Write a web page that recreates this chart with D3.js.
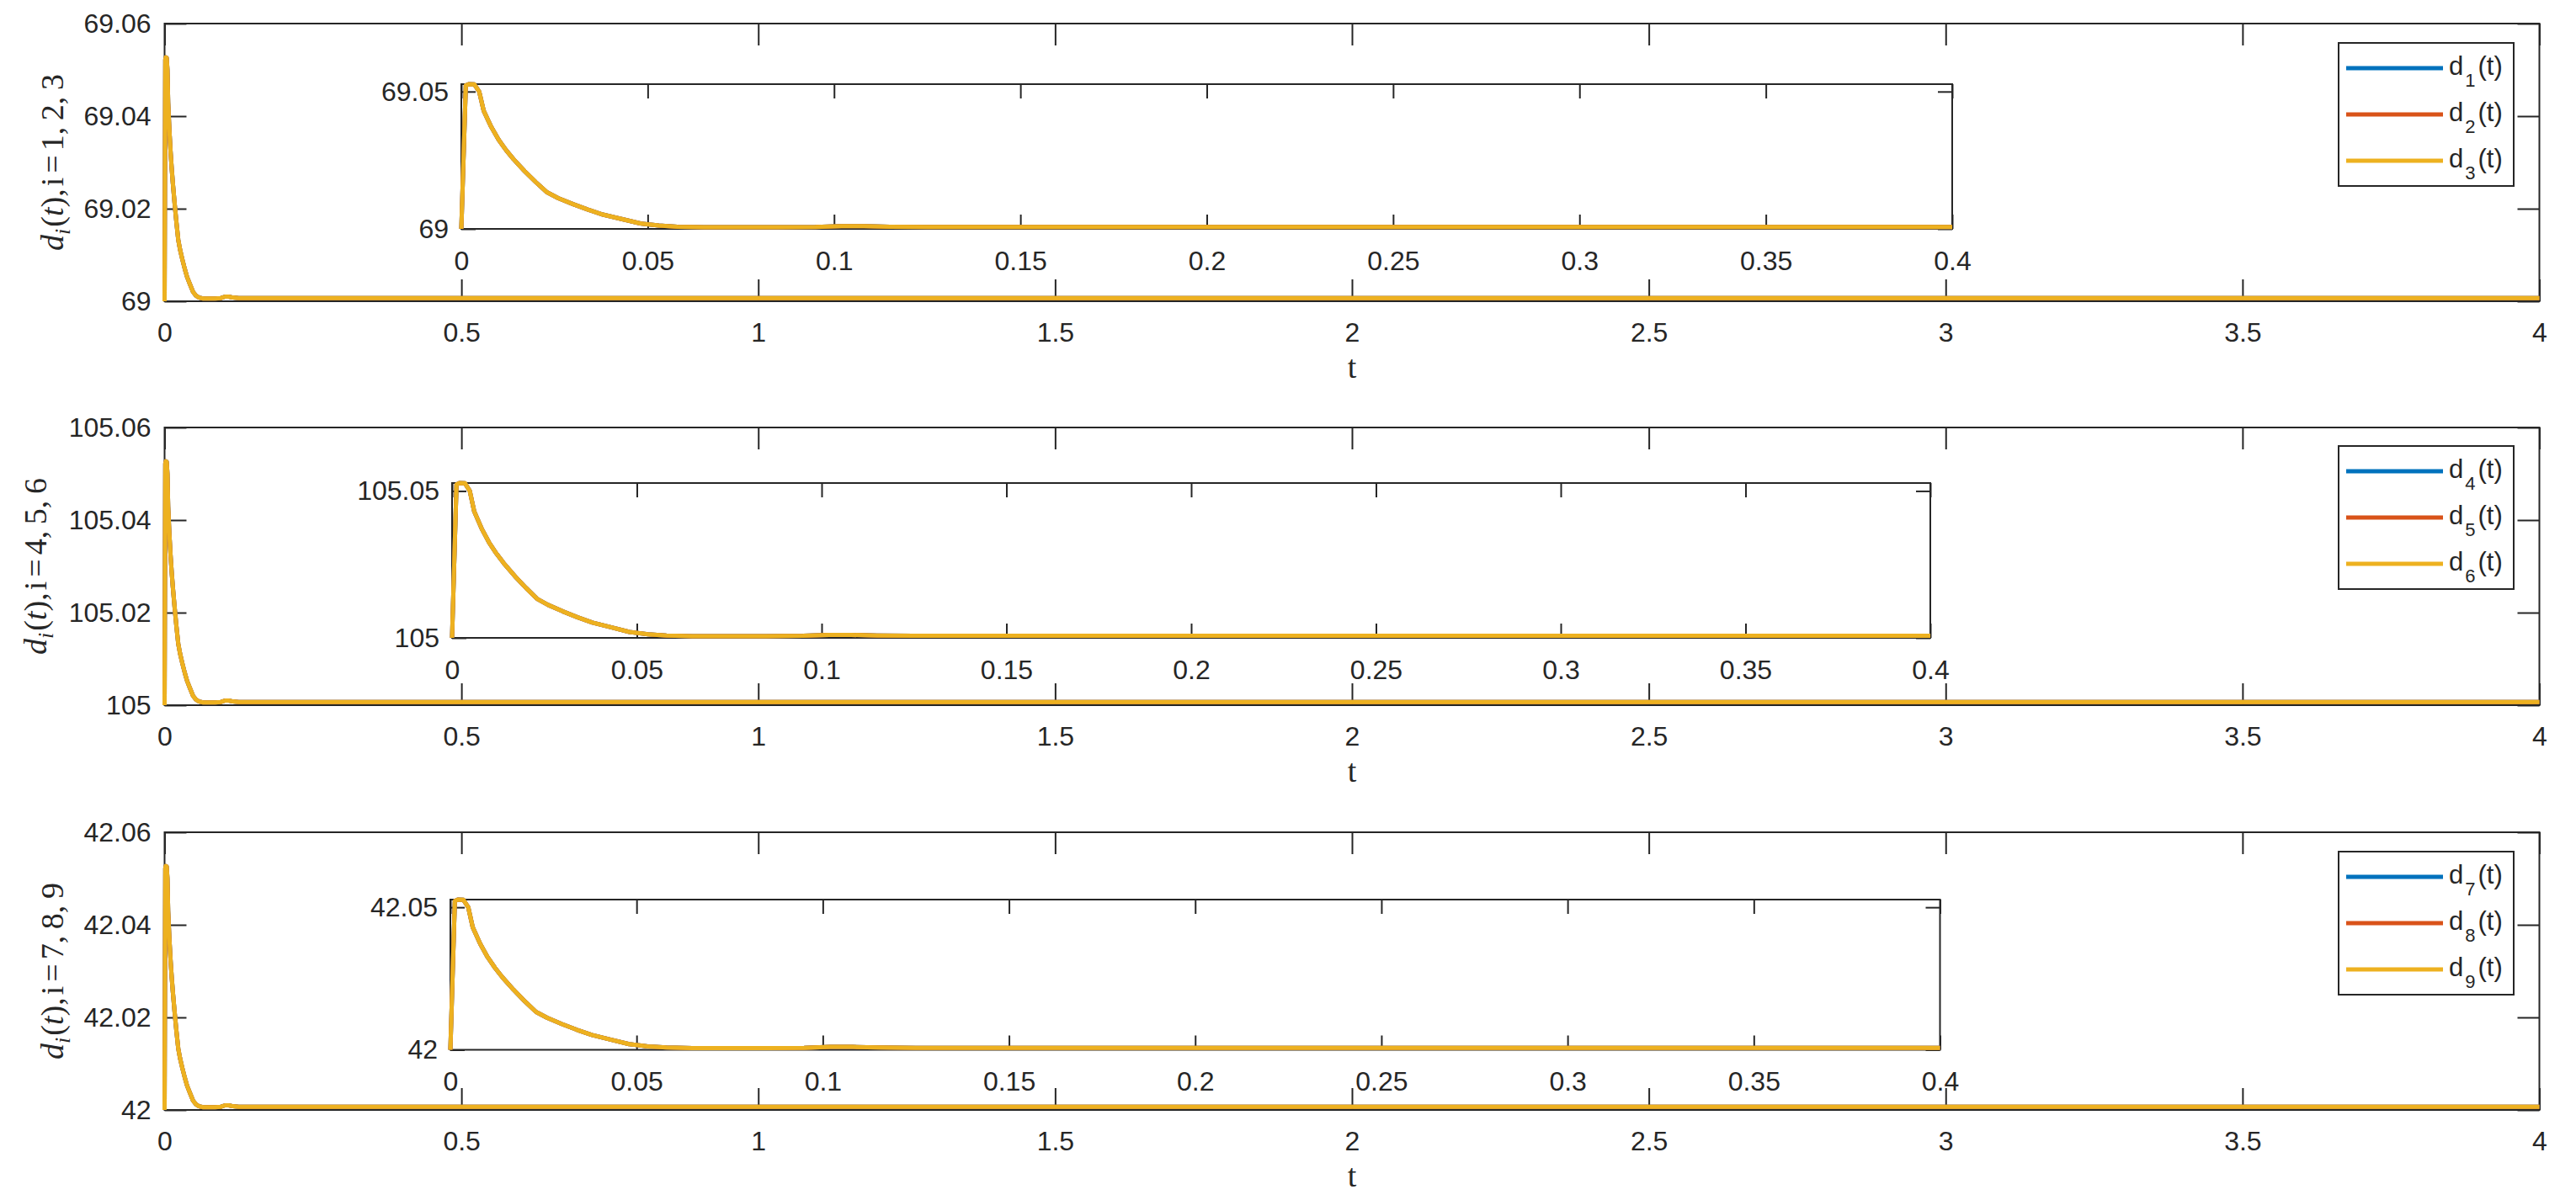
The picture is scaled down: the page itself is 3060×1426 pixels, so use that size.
<!DOCTYPE html>
<html><head><meta charset="utf-8">
<script src="https://cdn.jsdelivr.net/npm/d3@7"></script>
<style>body{margin:0;background:#fff;} svg{display:block;}</style>
</head><body><svg id="chart" width="3060" height="1426"></svg>
<script>
// ---------------- data ----------------
const timeValues = [0, 0.0012, 0.002, 0.0035, 0.0048, 0.006, 0.008, 0.010, 0.012, 0.014, 0.017, 0.020, 0.023, 0.026, 0.030, 0.034, 0.038, 0.043, 0.048, 0.053, 0.058, 0.065, 0.075, 0.085, 0.095, 0.102, 0.108, 0.115, 0.125, 0.15, 0.2, 0.3, 0.4, 0.8, 1.5, 2.5, 4];

// d1(t), d2(t), d3(t) coincide
const d123Values = [69, 69.0522, 69.0527, 69.0526, 69.0500, 69.0430, 69.0372, 69.0325, 69.0287, 69.0254, 69.0210, 69.0170, 69.0133, 69.0112, 69.0090, 69.0070, 69.0052, 69.0036, 69.0020, 69.0012, 69.0008, 69.0006, 69.0006, 69.0006, 69.0007, 69.0010, 69.0010, 69.0008, 69.0007, 69.0007, 69.0007, 69.0007, 69.0007, 69.0007, 69.0007, 69.0007, 69.0007];
// d4(t), d5(t), d6(t) coincide
const d456Values = [105, 105.0522, 105.0527, 105.0526, 105.0500, 105.0430, 105.0372, 105.0325, 105.0287, 105.0254, 105.0210, 105.0170, 105.0133, 105.0112, 105.0090, 105.0070, 105.0052, 105.0036, 105.0020, 105.0012, 105.0008, 105.0006, 105.0006, 105.0006, 105.0007, 105.0010, 105.0010, 105.0008, 105.0007, 105.0007, 105.0007, 105.0007, 105.0007, 105.0007, 105.0007, 105.0007, 105.0007];
// d7(t), d8(t), d9(t) coincide
const d789Values = [42, 42.0522, 42.0527, 42.0526, 42.0500, 42.0430, 42.0372, 42.0325, 42.0287, 42.0254, 42.0210, 42.0170, 42.0133, 42.0112, 42.0090, 42.0070, 42.0052, 42.0036, 42.0020, 42.0012, 42.0008, 42.0006, 42.0006, 42.0006, 42.0007, 42.0010, 42.0010, 42.0008, 42.0007, 42.0007, 42.0007, 42.0007, 42.0007, 42.0007, 42.0007, 42.0007, 42.0007];

const mainXTicks = [0, 0.5, 1, 1.5, 2, 2.5, 3, 3.5, 4];
const insetXTicks = [0, 0.05, 0.1, 0.15, 0.2, 0.25, 0.3, 0.35, 0.4];
const yTicks123 = [69, 69.02, 69.04, 69.06];
const yTicks456 = [105, 105.02, 105.04, 105.06];
const yTicks789 = [42, 42.02, 42.04, 42.06];
const insetYTicks123 = [69, 69.05];
const insetYTicks456 = [105, 105.05];
const insetYTicks789 = [42, 42.05];
const legend123 = ["1", "2", "3"];
const legend456 = ["4", "5", "6"];
const legend789 = ["7", "8", "9"];
const ylabelIdx123 = "1,2,3";
const ylabelIdx456 = "4,5,6";
const ylabelIdx789 = "7,8,9";
const seriesColors = ["#0072BD", "#D95319", "#EDB120"];

const groups = [
  {values: [d123Values, d123Values, d123Values], yTicks: yTicks123, insetYTicks: insetYTicks123, legend: legend123, ylab: ylabelIdx123},
  {values: [d456Values, d456Values, d456Values], yTicks: yTicks456, insetYTicks: insetYTicks456, legend: legend456, ylab: ylabelIdx456},
  {values: [d789Values, d789Values, d789Values], yTicks: yTicks789, insetYTicks: insetYTicks789, legend: legend789, ylab: ylabelIdx789}
];

// ---------------- layout ----------------
const AX = "#262626";
const SANS = "'Liberation Sans', Arial, sans-serif";
const SERIF = "'Liberation Serif', 'Times New Roman', serif";
const left = 195.5, right = 3016.5;
const layout = [
  {top: 28, bottom: 358, inset: {l: 548, r: 2319, t: 100, b: 272}, legendTop: 51, ylabelX: 75},
  {top: 508, bottom: 838, inset: {l: 537, r: 2293, t: 574, b: 758}, legendTop: 530, ylabelX: 55},
  {top: 989, bottom: 1319, inset: {l: 535, r: 2304.5, t: 1069, b: 1247.5}, legendTop: 1012, ylabelX: 75}
];

const svg = d3.select("#chart");
svg.append("rect").attr("width", 3060).attr("height", 1426).attr("fill", "#fff");

const fmt = d => String(+d.toFixed(4));

function drawAxes(g, x, y, xt, yt, tickLen, xPad, yPad, fontSize) {
  const [x0, x1] = x.range();
  const [y0, y1] = y.range(); // y0 bottom, y1 top
  const parts = [];
  parts.push(g.append("g").attr("transform", `translate(0,${y0})`)
    .call(d3.axisBottom(x).tickValues(xt).tickSizeInner(-tickLen).tickSizeOuter(0).tickPadding(xPad).tickFormat(fmt)));
  parts.push(g.append("g").attr("transform", `translate(0,${y1})`)
    .call(d3.axisTop(x).tickValues(xt).tickSizeInner(-tickLen).tickSizeOuter(0).tickFormat(() => "")));
  parts.push(g.append("g").attr("transform", `translate(${x0},0)`)
    .call(d3.axisLeft(y).tickValues(yt).tickSizeInner(-tickLen).tickSizeOuter(0).tickPadding(yPad).tickFormat(fmt)));
  parts.push(g.append("g").attr("transform", `translate(${x1},0)`)
    .call(d3.axisRight(y).tickValues(yt).tickSizeInner(-tickLen).tickSizeOuter(0).tickFormat(() => "")));
  parts.forEach(p => {
    p.select(".domain").remove();
    p.selectAll(".tick line").attr("stroke", AX).attr("stroke-width", 2);
    p.selectAll(".tick text").attr("fill", AX).attr("font-family", SANS).attr("font-size", fontSize);
    p.attr("font-family", SANS).attr("font-size", fontSize);
  });
  g.append("rect").attr("x", x0).attr("y", y1).attr("width", x1 - x0).attr("height", y0 - y1)
    .attr("fill", "none").attr("stroke", AX).attr("stroke-width", 2);
}

groups.forEach((grp, gi) => {
  const L = layout[gi];
  const g = svg.append("g");
  const x = d3.scaleLinear().domain(d3.extent(mainXTicks)).range([left, right]);
  const y = d3.scaleLinear().domain(d3.extent(grp.yTicks)).range([L.bottom, L.top]);

  drawAxes(g, x, y, mainXTicks, grp.yTicks, 26, 25, 16, 32);

  const line = d3.line().x(d => x(d[0])).y(d => y(d[1]));
  grp.values.forEach((vals, si) => {
    const pts = timeValues.map((t, i) => [t, vals[i]]);
    g.append("path").datum(pts).attr("d", line).attr("fill", "none")
      .attr("stroke", seriesColors[si]).attr("stroke-width", 5)
      .attr("stroke-linejoin", "round").attr("stroke-linecap", "butt");
  });

  // x label
  g.append("text").attr("x", (left + right) / 2).attr("y", L.bottom + 91)
    .attr("text-anchor", "middle").attr("font-family", SERIF)
    .attr("font-size", 38).attr("fill", AX).text("t");

  // y label
  const cy = (L.top + L.bottom) / 2;
  const yl = g.append("text").attr("transform", `translate(${L.ylabelX},${cy}) rotate(-90)`)
    .attr("text-anchor", "middle").attr("font-family", SERIF).attr("font-size", 38).attr("fill", AX);
  yl.append("tspan").attr("font-style", "italic").text("d");
  yl.append("tspan").attr("font-style", "italic").attr("font-size", 26).attr("dy", 8).text("i");
  yl.append("tspan").attr("dy", -8).attr("dx", 2).text("(");
  yl.append("tspan").attr("font-style", "italic").text("t");
  yl.append("tspan").text("),");
  yl.append("tspan").attr("dx", 3).text("i");
  yl.append("tspan").attr("dx", 5).text("=");
  yl.append("tspan").attr("dx", 5).text(grp.ylab.split(",").join(",\u2009"));

  // inset
  const I = L.inset;
  const ig = svg.append("g");
  const insetPts = timeValues.map((t, i) => [t, grp.values[0][i]]).filter(d => d[0] <= d3.max(insetXTicks));
  const ix = d3.scaleLinear().domain(d3.extent(insetXTicks)).range([I.l, I.r]);
  const iy = d3.scaleLinear().domain(d3.extent(insetPts, d => d[1])).range([I.b, I.t]);
  ig.append("rect").attr("x", I.l).attr("y", I.t).attr("width", I.r - I.l).attr("height", I.b - I.t).attr("fill", "#fff");
  drawAxes(ig, ix, iy, insetXTicks, grp.insetYTicks, 17, 26, 15, 32);
  const iline = d3.line().x(d => ix(d[0])).y(d => iy(d[1]));
  grp.values.forEach((vals, si) => {
    const pts = timeValues.map((t, i) => [t, vals[i]]).filter(d => d[0] <= d3.max(insetXTicks));
    ig.append("path").datum(pts).attr("d", iline).attr("fill", "none")
      .attr("stroke", seriesColors[si]).attr("stroke-width", 5)
      .attr("stroke-linejoin", "round");
  });

  // legend
  const lg = svg.append("g");
  const lx = 2778, lw = 208, lh = 170;
  lg.append("rect").attr("x", lx).attr("y", L.legendTop).attr("width", lw).attr("height", lh)
    .attr("fill", "#fff").attr("stroke", AX).attr("stroke-width", 2);
  grp.legend.forEach((idx, si) => {
    const ly = L.legendTop + 30 + 55 * si;
    lg.append("line").attr("x1", lx + 9).attr("x2", lx + 124).attr("y1", ly).attr("y2", ly)
      .attr("stroke", seriesColors[si]).attr("stroke-width", 5);
    const t = lg.append("text").attr("x", lx + 131).attr("y", ly + 8)
      .attr("font-family", SANS).attr("font-size", 31).attr("fill", AX);
    t.append("tspan").text("d");
    t.append("tspan").attr("font-size", 22).attr("dy", 14).attr("dx", 2).text(idx);
    t.append("tspan").attr("dy", -14).attr("dx", 3).text("(t)");
  });
});
</script>
</body></html>
